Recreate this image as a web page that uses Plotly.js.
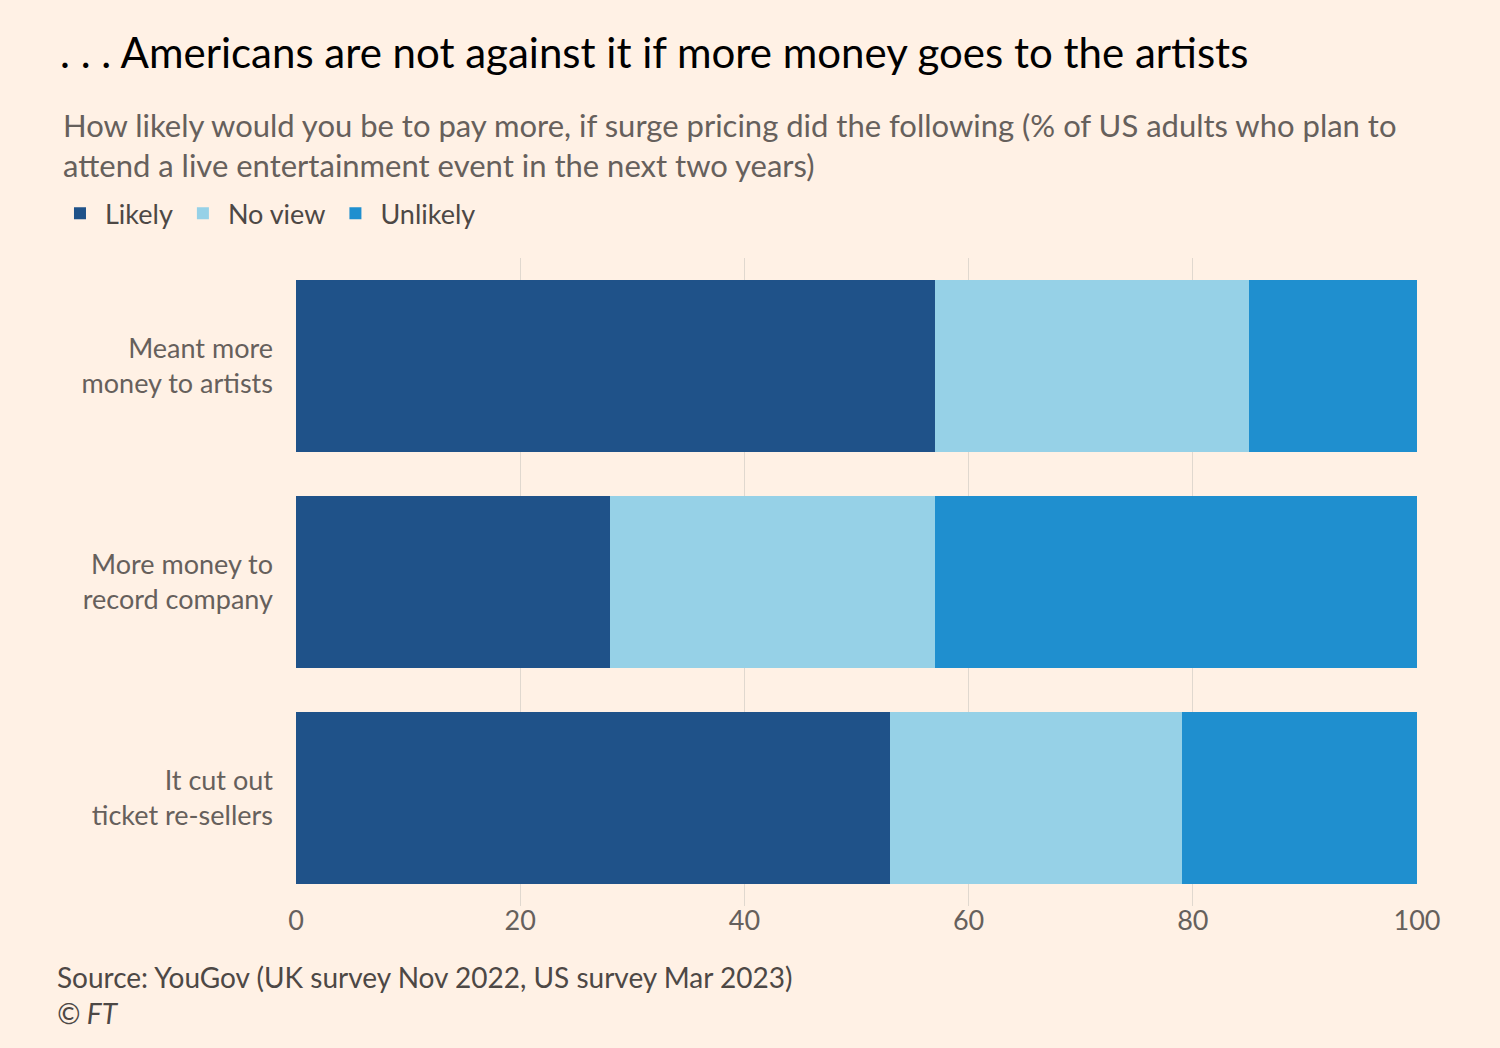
<!DOCTYPE html>
<html>
<head>
<script src="https://cdn.plot.ly/plotly-3.0.1.min.js"></script>
<style>body{margin:0;background:#fff1e5}</style>
</head>
<body>
<div id="plot" style="width:1500px;height:1048px"></div>
<script>
const categories = ["Meant more<br>money to artists", "More money to<br>record company", "It cut out<br>ticket re-sellers"];
const likely = [57, 28, 53];
const noView = [28, 29, 26];
const unlikely = [15, 43, 21];

function bar(name, vals, color) {
  return {
    type: "bar",
    orientation: "h",
    name: name,
    x: vals,
    y: categories,
    marker: { color: color },
    hoverinfo: "x+name"
  };
}

var data = [
  bar("Likely", likely, "#1f5289"),
  bar("No view", noView, "#96d1e7"),
  bar("Unlikely", unlikely, "#1f8fcf")
];

var font = "Lato, 'Open Sans', sans-serif";
var layout = {
  barmode: "stack",
  bargap: 0.2,
  paper_bgcolor: "#fff1e5",
  plot_bgcolor: "#fff1e5",
  font: { family: font, color: "#66605c", size: 25 },
  margin: { l: 296, r: 83, t: 258, b: 142 },
  showlegend: true,
  legend: {
    orientation: "h",
    x: -0.215, xref: "paper", xanchor: "left",
    y: 0.796, yref: "container", yanchor: "middle",
    font: { size: 27, color: "#4d4845" },
    traceorder: "normal",
    itemwidth: 40
  },
  xaxis: {
    range: [0, 100],
    tickvals: [0, 20, 40, 60, 80, 100],
    showgrid: true,
    gridcolor: "#e0d8cf",
    zeroline: false,
    ticks: "",
    ticklabelstandoff: -4,
    showline: false,
    tickfont: { size: 27, color: "#66605c" }
  },
  yaxis: {
    autorange: "reversed",
    ticks: "",
    ticklabelstandoff: 22,
    tickfont: { size: 27, color: "#66605c" }
  },
  annotations: [
    { text: ". . . Americans are not against it if more money goes to the artists", xref: "paper", yref: "paper", x: -0.212, y: 1.318, xanchor: "left", yanchor: "middle", showarrow: false, font: { size: 42, color: "#000" } },
    { text: "How likely would you be to pay more, if surge pricing did the following (% of US adults who plan to<br>attend a live entertainment event in the next two years)", xref: "paper", yref: "paper", x: -0.21, y: 1.174, xanchor: "left", yanchor: "middle", align: "left", showarrow: false, font: { size: 31, color: "#66605c" } },
    { text: "Source: YouGov (UK survey Nov 2022, US survey Mar 2023)<br><i>© FT</i>", xref: "paper", yref: "paper", x: -0.215, y: -0.137, xanchor: "left", yanchor: "middle", align: "left", showarrow: false, font: { size: 28, color: "#4d4845" } }
  ]
};

Plotly.newPlot("plot", data, layout, { displayModeBar: false });
</script>
</body>
</html>
